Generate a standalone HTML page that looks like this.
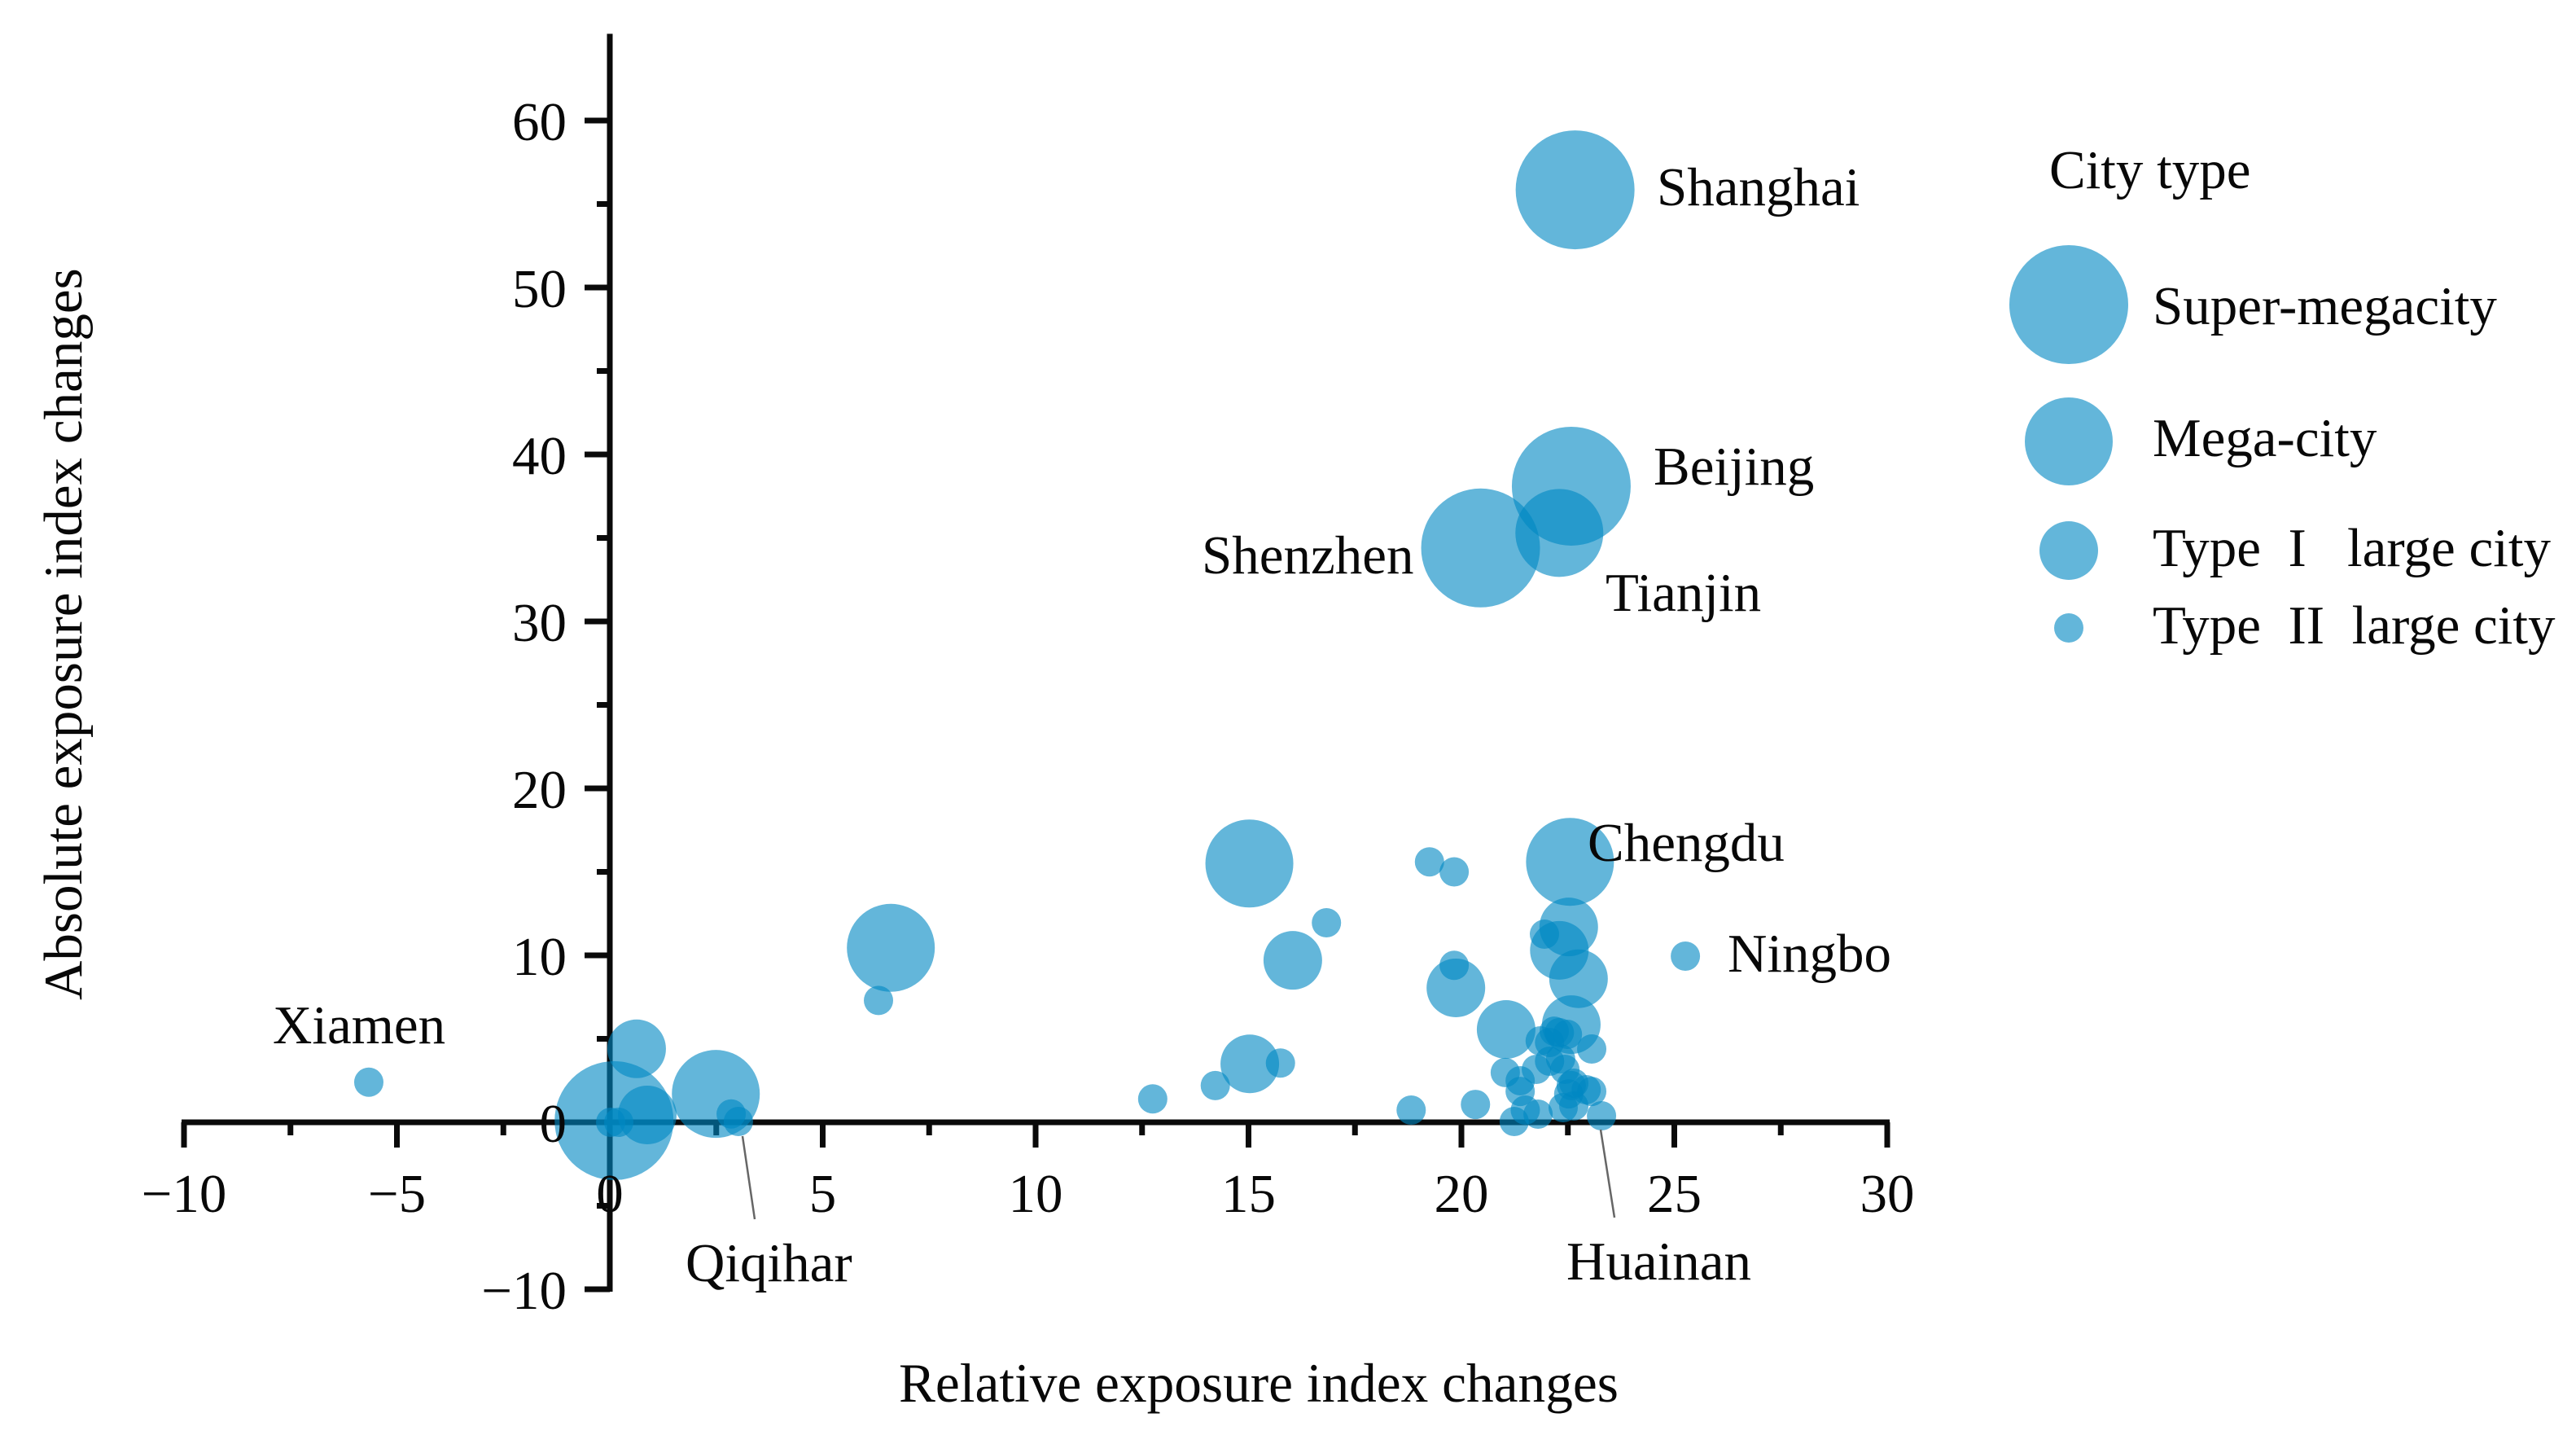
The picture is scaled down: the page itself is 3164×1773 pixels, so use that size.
<!DOCTYPE html>
<html lang="en">
<head>
<meta charset="utf-8">
<title>Exposure index changes bubble chart</title>
<style>
  html, body { margin: 0; padding: 0; background: #fff; }
  svg { display: block; }
  text { font-family: "Liberation Serif", serif; font-size: 67px; fill: #080808; white-space: pre; }
  .bubble { fill: rgb(0, 136, 194); fill-opacity: 0.61; }
  .axis { stroke: #0a0a0a; stroke-width: 7; fill: none; }
  .leader { stroke: #666; stroke-width: 2.5; fill: none; }
</style>
</head>
<body>
<svg id="chart" xmlns="http://www.w3.org/2000/svg" width="3164" height="1773" viewBox="0 0 3164 1773">
  <rect x="0" y="0" width="3164" height="1773" fill="#fff"/>
  <g id="axes"></g>
  <g id="bubbles"></g>
  <g id="tick-labels"></g>

  <line class="leader" x1="912" y1="1395" x2="927" y2="1497"/>
  <line class="leader" x1="1966" y1="1387" x2="1983" y2="1495"/>

  <text x="2035" y="252">Shanghai</text>
  <text x="2031" y="595">Beijing</text>
  <text x="1476" y="704">Shenzhen</text>
  <text x="1972" y="750">Tianjin</text>
  <text x="1950" y="1057">Chengdu</text>
  <text x="2122" y="1193">Ningbo</text>
  <text x="335" y="1281">Xiamen</text>
  <text x="842" y="1573">Qiqihar</text>
  <text x="1924" y="1571">Huainan</text>

  <text x="1104" y="1721" style="font-size:67.3px">Relative exposure index changes</text>
  <text transform="translate(100,1228) rotate(-90)" x="0" y="0">Absolute exposure index changes</text>

  <g>
    <text x="2517" y="231">City type</text>
    <circle class="bubble" cx="2541" cy="374" r="73"/>
    <text x="2644" y="398">Super-megacity</text>
    <circle class="bubble" cx="2541" cy="542" r="54"/>
    <text x="2644" y="560">Mega-city</text>
    <circle class="bubble" cx="2541" cy="676" r="36"/>
    <text x="2644" y="695">Type  I   large city</text>
    <circle class="bubble" cx="2541" cy="771" r="18"/>
    <text x="2644" y="790">Type  II  large city</text>
  </g>
</svg>

<script>
// Tick values
const xMajorTicks = [-10, -5, 0, 5, 10, 15, 20, 25, 30];
const xMinorTicks = [-7.5, -2.5, 2.5, 7.5, 12.5, 17.5, 22.5, 27.5];
const yMajorTicks = [-10, 0, 10, 20, 30, 40, 50, 60];
const yMinorTicks = [-5, 5, 15, 25, 35, 45, 55];
const xTickLabels = ["\u221210", "\u22125", "0", "5", "10", "15", "20", "25", "30"];
const yTickLabels = ["\u221210", "0", "10", "20", "30", "40", "50", "60"];

// Series values (relative change, absolute change)
const superMegacityX = [22.67, 22.58, 20.45, 0.1];
const superMegacityY = [55.85, 38.1, 34.4, 0.1];

const megaCityX = [22.3, 22.55, 15.02, 6.6, 2.49];
const megaCityY = [35.3, 15.6, 15.5, 10.45, 1.7];

const typeOneX = [22.52, 22.3, 22.75, 19.87, 21.05, 22.58, 16.04, 15.03, 0.63, 0.88];
const typeOneY = [11.7, 10.3, 8.6, 8.05, 5.56, 5.85, 9.7, 3.5, 4.4, 0.44];

const typeTwoX = [19.25, 19.83, 25.26, 21.95, 19.83, 16.83, 6.31, -5.66, 15.75, 14.22, 12.75, 0.02, 0.21, 2.85, 3.02,
  18.82, 20.33, 21.24, 21.03, 21.38, 21.38, 21.5, 21.8, 21.76, 22.07, 22.33, 21.85, 22.18, 22.3, 22.49, 23.06, 22.07,
  22.43, 22.64, 22.52, 22.58, 23.06, 22.93, 22.39, 22.64, 23.29];
const typeTwoY = [15.6, 15.0, 9.95, 11.27, 9.4, 11.95, 7.3, 2.4, 3.55, 2.2, 1.4, 0, 0, 0.5, 0.05,
  0.73, 1.07, 0.05, 2.98, 2.49, 1.85, 0.73, 0.49, 3.17, 3.66, 3.8, 4.88, 5.46, 5.37, 5.27, 4.39, 4.78,
  3.17, 2.34, 1.7, 2.2, 1.85, 1.95, 0.88, 0.98, 0.39];

const SVG_NS = 'http://www.w3.org/2000/svg';

function xScale(v) { return 749 + v * 52.3; }
function yScale(v) { return 1378 - v * 20.5; }

const axes = document.getElementById('axes');
const bubbles = document.getElementById('bubbles');
const tickLabels = document.getElementById('tick-labels');

function drawLine(x1, y1, x2, y2, name) {
  const el = document.createElementNS(SVG_NS, 'line');
  el.setAttribute('class', 'axis');
  el.setAttribute('x1', x1);
  el.setAttribute('y1', y1);
  el.setAttribute('x2', x2);
  el.setAttribute('y2', y2);
  
  
  axes.appendChild(el);
}

function drawLabel(x, y, str, anchor, name) {
  const el = document.createElementNS(SVG_NS, 'text');
  el.setAttribute('x', x);
  el.setAttribute('y', y);
  el.setAttribute('text-anchor', anchor);
  
  
  el.textContent = str;
  tickLabels.appendChild(el);
}

function drawBubbles(xs, ys, radius, name) {
  xs.forEach(function (x, i) {
    const el = document.createElementNS(SVG_NS, 'circle');
    el.setAttribute('class', 'bubble');
    el.setAttribute('cx', xScale(x));
    el.setAttribute('cy', yScale(ys[i]));
    el.setAttribute('r', radius);
    
    
    bubbles.appendChild(el);
  });
}

// Axes
drawLine(xScale(-10) - 3, yScale(0), xScale(30) + 3, yScale(0), 'x-axis-line');
drawLine(xScale(0), yScale(65) - 4, xScale(0), yScale(-10) + 3, 'y-axis-line');

xMajorTicks.forEach(function (v, i) {
  drawLine(xScale(v), yScale(0), xScale(v), yScale(0) + 31, 'x-major-tick');
  drawLabel(xScale(v), 1488, xTickLabels[i], 'middle', 'x-tick-label');
});
xMinorTicks.forEach(function (v) {
  drawLine(xScale(v), yScale(0), xScale(v), yScale(0) + 16, 'x-minor-tick');
});
yMajorTicks.forEach(function (v, i) {
  drawLine(xScale(0), yScale(v), xScale(0) - 31, yScale(v), 'y-major-tick');
  drawLabel(696, yScale(v) + 24, yTickLabels[i], 'end', 'y-tick-label');
});
yMinorTicks.forEach(function (v) {
  drawLine(xScale(0), yScale(v), xScale(0) - 16, yScale(v), 'y-minor-tick');
});

// Bubbles
drawBubbles(superMegacityX, superMegacityY, 73, 'bubble-super-megacity');
drawBubbles(megaCityX, megaCityY, 54, 'bubble-mega-city');
drawBubbles(typeOneX, typeOneY, 36, 'bubble-type-1-large-city');
drawBubbles(typeTwoX, typeTwoY, 18, 'bubble-type-2-large-city');
</script>
</body>
</html>
